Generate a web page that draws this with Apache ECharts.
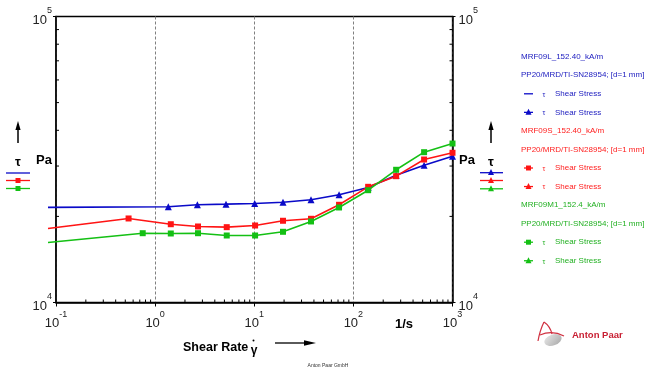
<!DOCTYPE html>
<html><head><meta charset="utf-8">
<script src="https://cdn.jsdelivr.net/npm/echarts@6/dist/echarts.min.js"></script>
<style>html,body{margin:0;padding:0;background:#fff}#c{width:648px;height:372px}</style>
</head><body><div id="c"></div>
<script>
// ---- data ----
const rateBlue   = [0.0831, 1.36, 2.67, 5.19, 10.1, 19.5, 37.4, 71.7, 141, 270, 517, 1000];
const stressBlue = [21500, 21610, 21960, 22070, 22190, 22420, 22870, 23800, 25240, 27870, 30210, 32470];
const rateRed    = [0.0831, 0.54, 1.44, 2.71, 5.28, 10.2, 19.5, 37.4, 71.7, 141, 270, 517, 1000];
const stressRed  = [18150, 19670, 18780, 18440, 18340, 18590, 19310, 19620, 21960, 25380, 27650, 31620, 33380];
const rateGreen  = [0.0831, 0.75, 1.44, 2.71, 5.28, 10.2, 19.5, 37.4, 71.7, 141, 270, 517, 1000];
const stressGreen= [16210, 17470, 17430, 17470, 17150, 17150, 17670, 19200, 21490, 24700, 29110, 33540, 35960];
const xDecades = [0.1, 1, 10, 100, 1000];
const yDecades = [10000, 100000];
const minorMult = [2, 3, 4, 5, 6, 7, 8, 9];
const legendTexts = {
  blue:  ['MRF09L_152.40_kA/m', 'PP20/MRD/TI-SN28954; [d=1 mm]'],
  red:   ['MRF09S_152.40_kA/m', 'PP20/MRD/TI-SN28954; [d=1 mm]'],
  green: ['MRF09M1_152.4_kA/m', 'PP20/MRD/TI-SN28954; [d=1 mm]']
};
const seriesLabel = 'Shear Stress';

// ---- styles ----
const FONT = 'Liberation Sans, Arial, sans-serif';
const C_BLUE = '#0a0ac8', C_RED = '#ff1414', C_GREEN = '#14c014';

function pairs(xs, ys) {
  return xs.map((x, i) => i === 0 ? {value: [x, ys[i]], symbol: 'none'} : [x, ys[i]]);
}
const minorX = [], minorY = [];
xDecades.slice(0, -1).forEach(d => minorMult.forEach(m => minorX.push(d * m)));
yDecades.slice(0, -1).forEach(d => minorMult.forEach(m => minorY.push(d * m)));

function expLabel(v) {
  const e = Math.round(Math.log10(v));
  return '{b|10}{s|' + e + '}';
}
const richLab = {
  b: {fontSize: 13, fontFamily: FONT, color: '#222', lineHeight: 20, verticalAlign: 'bottom'},
  s: {fontSize: 9, fontFamily: FONT, color: '#222', lineHeight: 10, verticalAlign: 'top'}
};

function tickSeries(data, dx, dy) {
  return {
    type: 'custom', silent: true, clip: false, z: 5,
    data: data,
    encode: {x: 0, y: 1},
    renderItem: function (params, api) {
      const p = api.coord([api.value(0), api.value(1)]);
      return {type: 'line', shape: {x1: p[0], y1: p[1], x2: p[0] + dx, y2: p[1] + dy},
              style: {stroke: '#000', lineWidth: 1}};
    }
  };
}

// ---- graphic decorations ----
const g = [];
function txt(x, y, t, size, color, weight, align) {
  g.push({type: 'text', x: x, y: y, style: {text: t, font: (weight || 'normal') + ' ' + size + 'px ' + FONT,
    fill: color || '#000', align: align || 'left', verticalAlign: 'middle'}});
}
function hline(x1, x2, y, color, w) {
  g.push({type: 'line', shape: {x1: x1, y1: y, x2: x2, y2: y}, style: {stroke: color, lineWidth: w || 1.3}});
}
function square(cx, cy, s, color) {
  g.push({type: 'rect', shape: {x: cx - s / 2, y: cy - s / 2, width: s, height: s}, style: {fill: color}});
}
function tri(cx, cy, s, color) {
  g.push({type: 'polygon', shape: {points: [[cx, cy - s * 0.6], [cx - s / 2, cy + s * 0.4], [cx + s / 2, cy + s * 0.4]]}, style: {fill: color}});
}
function upArrow(x, y1, y2) {
  g.push({type: 'line', shape: {x1: x, y1: y1 + 6, x2: x, y2: y2}, style: {stroke: '#000', lineWidth: 1.5}});
  g.push({type: 'polygon', shape: {points: [[x - 2.6, y1 + 9], [x + 2.6, y1 + 9], [x, y1]]}, style: {fill: '#000'}});
}

// left axis title
upArrow(18, 121, 143);
txt(18, 162, 'τ', 13, '#000', 'bold', 'center');
txt(36, 160, 'Pa', 13, '#000', 'bold');
hline(6, 30, 173, C_BLUE, 1.3);
hline(6, 30, 180.5, C_RED, 1.3); square(18, 180.5, 5, C_RED);
hline(6, 30, 188.5, C_GREEN, 1.3); square(18, 188.5, 5, C_GREEN);
// right axis title
txt(459, 160, 'Pa', 13, '#000', 'bold');
upArrow(491, 121, 143);
txt(491, 162, 'τ', 13, '#000', 'bold', 'center');
hline(480, 503, 172.7, C_BLUE, 1.3); tri(491, 172.7, 6, C_BLUE);
hline(480, 503, 180.5, C_RED, 1.3); tri(491, 180.5, 6, C_RED);
hline(480, 503, 188.8, C_GREEN, 1.3); tri(491, 188.8, 6, C_GREEN);
// bottom axis title
txt(395, 324, '1/s', 13, '#000', 'bold');
txt(183, 348, 'Shear Rate', 12.5, '#000', 'bold');
txt(254, 351, 'γ', 12, '#000', 'bold', 'center');
g.push({type: 'circle', shape: {cx: 253.5, cy: 340.5, r: 1}, style: {fill: '#000'}});
g.push({type: 'line', shape: {x1: 275, y1: 343, x2: 306, y2: 343}, style: {stroke: '#000', lineWidth: 1.3}});
g.push({type: 'polygon', shape: {points: [[304, 340.2], [304, 345.8], [316, 343]]}, style: {fill: '#000'}});
txt(328, 366, 'Anton Paar GmbH', 5, '#333', 'normal', 'center');

// right legend
const legCol = {blue: [C_BLUE, '#2020c0'], red: [C_RED, '#ff2020'], green: [C_GREEN, '#22b022']};
const legSyms = {blue: ['line', 'tri'], red: ['sq', 'tri'], green: ['sq', 'tri']};
let ly = 56.7;
['blue', 'red', 'green'].forEach(k => {
  const [lc, tc] = legCol[k];
  legendTexts[k].forEach(t => { txt(521, ly, t, 8, tc); ly += 18.55; });
  legSyms[k].forEach(s => {
    hline(524, 533, ly, lc, 1.3);
    if (s === 'sq') square(528.5, ly, 5, lc);
    if (s === 'tri') tri(528.5, ly, 6, lc);
    txt(544, ly + 1, 'τ', 7, tc, 'normal', 'center');
    txt(555, ly, seriesLabel, 8, tc);
    ly += 18.55;
  });
});

// logo
g.push({type: 'circle', shape: {cx: 553, cy: 340, r: 9}, scaleX: 1, scaleY: 0.6, originX: 553, originY: 340, rotation: 0.35,
  style: {fill: {type: 'linear', x: 0, y: 0, x2: 1, y2: 1, colorStops: [{offset: 0, color: '#e8e8e8'}, {offset: 1, color: '#a8a8a8'}]}}});
g.push({type: 'bezierCurve', shape: {x1: 538, y1: 341, cpx1: 540, cpy1: 330, x2: 544, y2: 322}, style: {stroke: '#d03040', lineWidth: 1.2, fill: null}});
g.push({type: 'bezierCurve', shape: {x1: 544, y1: 322, cpx1: 550, cpy1: 326, x2: 552, y2: 334}, style: {stroke: '#d03040', lineWidth: 1.2, fill: null}});
g.push({type: 'bezierCurve', shape: {x1: 540, y1: 335, cpx1: 552, cpy1: 330, x2: 564, y2: 336}, style: {stroke: '#d03040', lineWidth: 1.2, fill: null}});
txt(572, 335, 'Anton Paar', 9.5, '#c81e32', 'bold');

const lineBase = {type: 'line', clip: false, z: 10, animation: false, xAxisIndex: 1, yAxisIndex: 2};

const option = {
  animation: false,
  backgroundColor: '#fff',
  grid: [
    {left: 56, right: 195.5, top: 16.5, bottom: 69.5, show: true, borderColor: '#000', borderWidth: 1.3, backgroundColor: 'transparent'},
    // same data scale, extended by the short stub the reference draws left of the axis
    {left: 48, right: 195.5, top: 16.5, bottom: 69.5, show: false}
  ],
  xAxis: [{
    type: 'log', logBase: 10, min: 0.1, max: 1000,
    axisLine: {show: true, lineStyle: {color: '#000', width: 1.5}},
    axisTick: {show: true, length: 4, inside: false, lineStyle: {color: '#000', width: 1}},
    splitLine: {show: true, lineStyle: {color: '#808080', width: 1, type: [3, 2]}},
    axisLabel: {formatter: expLabel, rich: richLab, margin: 7.5, color: '#222'}
  }, {
    type: 'log', logBase: 10, min: rateBlue[0], max: 1000, gridIndex: 1, show: false
  }],
  yAxis: [{
    type: 'log', logBase: 10, min: 10000, max: 100000, position: 'left',
    axisLine: {show: true, lineStyle: {color: '#000', width: 1.5}},
    axisTick: {show: true, length: 3, inside: false, lineStyle: {color: '#000'}},
    splitLine: {show: false},
    axisLabel: {formatter: expLabel, rich: richLab, margin: 4, color: '#222'}
  }, {
    type: 'log', logBase: 10, min: 10000, max: 100000, position: 'right',
    axisLine: {show: true, lineStyle: {color: '#000', width: 1.5}},
    axisTick: {show: true, length: 3, inside: false, lineStyle: {color: '#000'}},
    splitLine: {show: false},
    axisLabel: {formatter: expLabel, rich: richLab, margin: 6, color: '#222'}
  }, {
    type: 'log', logBase: 10, min: 10000, max: 100000, gridIndex: 1, show: false
  }],
  series: [
    Object.assign({}, lineBase, {name: 'MRF09L', data: pairs(rateBlue, stressBlue), symbol: 'triangle', symbolSize: 7,
      itemStyle: {color: C_BLUE}, lineStyle: {width: 1.6, color: C_BLUE}}),
    Object.assign({}, lineBase, {name: 'MRF09S', data: pairs(rateRed, stressRed), symbol: 'rect', symbolSize: 6,
      itemStyle: {color: C_RED}, lineStyle: {width: 1.6, color: C_RED}}),
    Object.assign({}, lineBase, {name: 'MRF09M1', data: pairs(rateGreen, stressGreen), symbol: 'rect', symbolSize: 6,
      itemStyle: {color: C_GREEN}, lineStyle: {width: 1.6, color: C_GREEN}}),
    tickSeries(minorY.map(v => [0.1, v]), 3, 0),
    tickSeries(minorY.map(v => [1000, v]), -3, 0),
    tickSeries(minorX.map(v => [v, 10000]), 0, -3)
  ],
  graphic: g
};
const chart = echarts.init(document.getElementById('c'), null, {renderer: 'canvas'});
chart.setOption(option);
</script>
</body></html>
